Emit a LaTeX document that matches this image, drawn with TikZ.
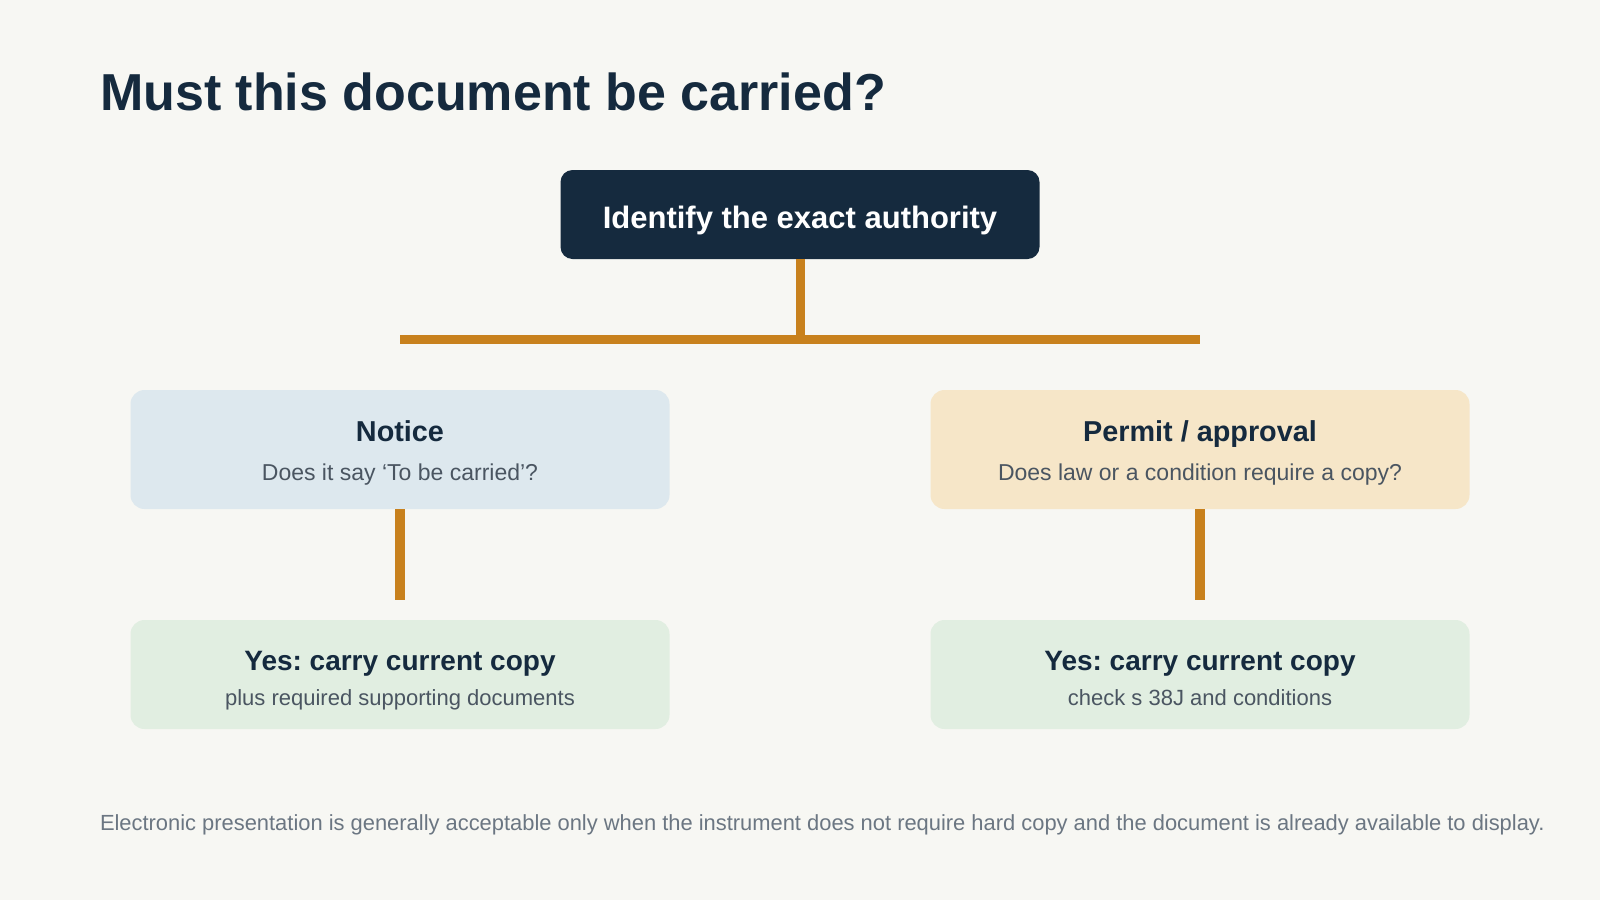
\documentclass[tikz,border=0pt]{standalone}
\usepackage{fontspec}
\setmainfont{Liberation Sans}
\frenchspacing
\definecolor{bg}{HTML}{F7F7F3}
\definecolor{navy}{HTML}{152A3E}
\definecolor{amber}{HTML}{C8811D}
\definecolor{noticefill}{HTML}{DDE8EE}
\definecolor{permitfill}{HTML}{F6E6C8}
\definecolor{yesfill}{HTML}{E1EEE1}
\definecolor{subgray}{HTML}{4A5561}
\definecolor{footgray}{HTML}{6B7682}
\tikzset{
  box/.style={draw=none, inner sep=0pt, rounded corners=14pt, minimum width=539pt},
  topbox/.style={draw=none, fill=navy, inner sep=0pt, rounded corners=12pt, minimum width=479pt, minimum height=89pt},
  conn/.style={draw=amber, line width=9.5pt, line cap=butt},
  txt/.style={inner sep=0pt, outer sep=0pt, anchor=base},
  boxtitle/.style={txt, text=navy, font=\fontsize{28.8}{32}\selectfont\bfseries},
  yestitle/.style={txt, text=navy, font=\fontsize{28}{32}\selectfont\bfseries},
  boxsub/.style={txt, text=subgray, font=\fontsize{23}{26}\selectfont},
  yessub/.style={txt, text=subgray, font=\fontsize{22}{26}\selectfont},
}
\begin{document}
\begin{tikzpicture}[x=1pt,y=-1pt]
\fill[bg] (0,0) rectangle (1600,900);
\useasboundingbox (0,0) rectangle (1600,900);

\node[txt, anchor=base west, text=navy, font=\fontsize{52}{60}\selectfont\bfseries] (title) at (100,110) {Must this document be carried?};

\node[topbox] (top) at (800,214.5) {};
\node[txt, text=white, font=\fontsize{31}{36}\selectfont\bfseries] (toptxt) at (800,228) {Identify the exact authority};

\coordinate (barM) at (800,339.5);
\coordinate (barL) at (400,339.5);
\coordinate (barR) at (1200,339.5);
\draw[conn, line width=9pt] (top.south) -- (barM);
\draw[conn, line width=9pt] (barL) -- (barR);

\node[box, fill=noticefill, minimum height=119pt] (notice) at (400,449.5) {};
\node[boxtitle] (noticet) at (400,441) {Notice};
\node[boxsub] (notices) at (400,480) {Does it say ‘To be carried’?};

\node[box, fill=permitfill, minimum height=119pt] (permit) at (1200,449.5) {};
\node[boxtitle] (permitt) at (1200,441) {Permit / approval};
\node[boxsub] (permits) at (1200,480) {Does law or a condition require a copy?};

\coordinate (stubL) at (400,600);
\coordinate (stubR) at (1200,600);
\draw[conn] (notice.south) -- (stubL);
\draw[conn] (permit.south) -- (stubR);

\node[box, fill=yesfill, minimum height=109pt] (yesL) at (400,674.5) {};
\node[yestitle] (yesLt) at (400,670) {Yes: carry current copy};
\node[yessub] (yesLs) at (400,705) {plus required supporting documents};

\node[box, fill=yesfill, minimum height=109pt] (yesR) at (1200,674.5) {};
\node[yestitle] (yesRt) at (1200,670) {Yes: carry current copy};
\node[yessub] (yesRs) at (1200,705) {check s 38J and conditions};

\node[txt, anchor=base west, text=footgray, font=\fontsize{21.9}{26}\selectfont] (foot) at (100,830) {Electronic presentation is generally acceptable only when the instrument does not require hard copy and the document is already available to display.};
\end{tikzpicture}
\end{document}
